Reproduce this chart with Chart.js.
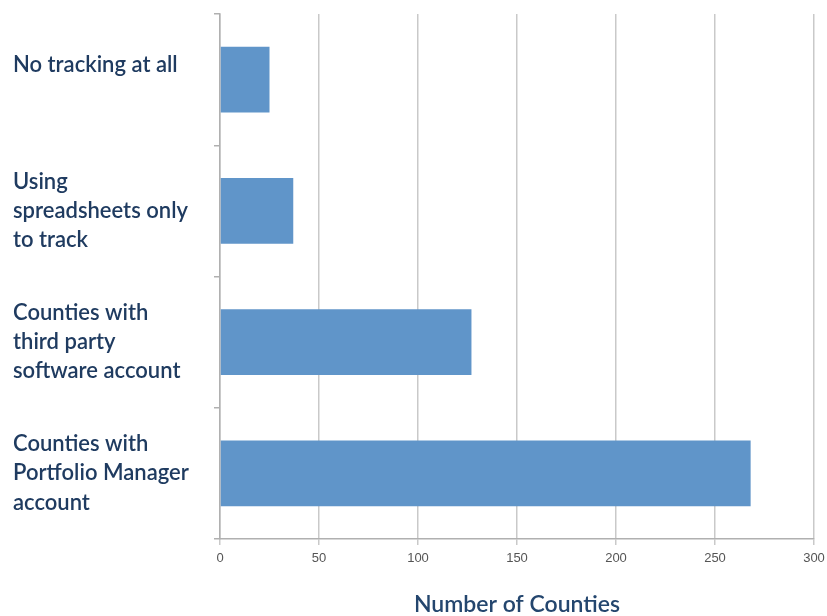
<!DOCTYPE html>
<html>
<head>
<meta charset="utf-8">
<script src="https://cdn.jsdelivr.net/npm/chart.js@4/dist/chart.umd.min.js"></script>
<style>
  html, body { margin: 0; padding: 0; background: #fff; }
  #wrap { width: 827px; height: 616px; }
</style>
</head>
<body>
<div id="wrap"><canvas id="myChart" width="827" height="616"></canvas></div>
<script>
// categories (multi-line labels) and values
var categories = [
  ['No tracking at all', ''],
  ['Using', 'spreadsheets only', 'to track'],
  ['Counties with', 'third party', 'software account'],
  ['Counties with', 'Portfolio Manager', 'account']
];
var counties = [25, 37, 127, 268];
var xTicks = [0, 50, 100, 150, 200, 250, 300];

var ctx = document.getElementById('myChart').getContext('2d');
var myChart = new Chart(ctx, {
  type: 'bar',
  data: {
    labels: categories,
    datasets: [{
      label: 'Number of Counties',
      data: counties,
      backgroundColor: '#6095c9',
      borderWidth: 0,
      barPercentage: 0.5,
      categoryPercentage: 1
    }]
  },
  options: {
    indexAxis: 'y',
    responsive: false,
    animation: false,
    layout: { padding: { left: 13, right: 13, top: 14, bottom: 0 } },
    plugins: {
      legend: { display: false },
      tooltip: { enabled: false }
    },
    scales: {
      x: {
        min: xTicks[0],
        max: xTicks[xTicks.length - 1],
        afterBuildTicks: function(scale) {
          scale.ticks = xTicks.map(function(v) { return { value: v }; });
        },
        afterFit: function(scale) {
          scale.height = 77;
          scale.paddingRight = 0;
        },
        grid: { color: '#c9c9c9', lineWidth: 1.5, tickLength: 6, drawTicks: true },
        border: { color: '#b0b0b0', width: 1.5 },
        ticks: { color: '#555', font: { family: 'Liberation Sans', size: 13 }, padding: 6, maxRotation: 0 },
        title: {
          display: true,
          text: 'Number of Counties',
          color: '#24466e',
          font: { family: 'Lato', size: 23, weight: '600', lineHeight: 1 },
          padding: { top: 0, bottom: 0 }
        }
      },
      y: {
        afterFit: function(scale) {
          scale.width = 207;
          scale.paddingTop = 0;
          scale.paddingBottom = 0;
        },
        grid: { offset: true, drawOnChartArea: false, tickLength: 6, color: '#b0b0b0', lineWidth: 1.5 },
        border: { color: '#b0b0b0', width: 1.5 },
        ticks: {
          crossAlign: 'far',
          color: '#1f3b60',
          font: { family: 'Lato', size: 22, weight: '600', lineHeight: 1.33 },
          padding: 8
        }
      }
    }
  }
});
</script>
</body>
</html>
